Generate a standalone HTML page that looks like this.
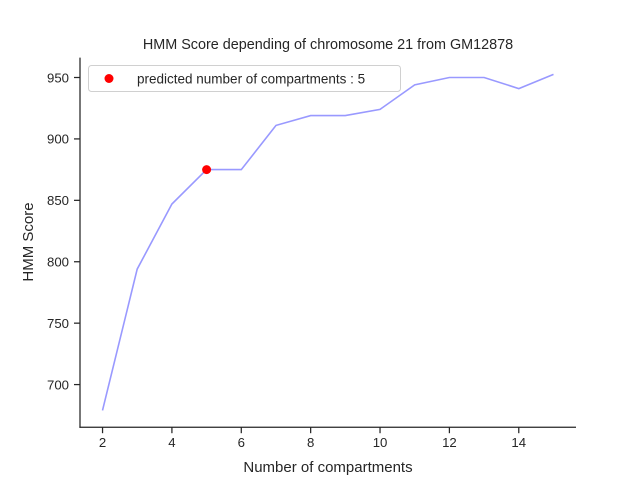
<!DOCTYPE html>
<html><head><meta charset="utf-8"><style>
body{margin:0;background:#fff;}
svg{display:block;font-family:"Liberation Sans","DejaVu Sans",sans-serif;}
</style></head><body>
<svg id="chart" width="640" height="480" viewBox="0 0 640 480">
<rect width="640" height="480" fill="#fff"/>
<text x="328" y="49" font-size="14.4" text-anchor="middle" fill="#262626">HMM Score depending of chromosome 21 from GM12878</text>
<g id="axes"></g>
<g id="series"></g>
<text x="328" y="472" font-size="15" text-anchor="middle" fill="#262626">Number of compartments</text>
<text transform="translate(33,242) rotate(-90)" font-size="15" text-anchor="middle" fill="#262626">HMM Score</text>
<g>
<rect x="88.5" y="65.5" width="312" height="26" rx="3" fill="#fff" fill-opacity="0.8" stroke="#d0d0d0"/>
<circle cx="109" cy="78.5" r="4.5" fill="#ff0000"/>
<text x="137" y="83.5" font-size="13.5" fill="#262626">predicted number of compartments : 5</text>
</g>
</svg>
<script>
const categories=[2,3,4,5,6,7,8,9,10,11,12,13,14,15];
const scores=[679,794,847,875,875,911,919,919,924,944,950,950,941,952.5];
const xTicks=[2,4,6,8,10,12,14];
const yTicks=[700,750,800,850,900,950];
const predictedK=[5];
const predictedScore=[875];
const L=80,R=576,T=57.6,B=427.2;
const xmin=1.35,xmax=15.65,ymin=665.3,ymax=966.2;
function xs(v){return L+(v-xmin)/(xmax-xmin)*(R-L);}
function ys(v){return B-(v-ymin)/(ymax-ymin)*(B-T);}
const NS="http://www.w3.org/2000/svg";
function mk(tag,attrs,parent){const e=document.createElementNS(NS,tag);for(const k in attrs)e.setAttribute(k,attrs[k]);parent.appendChild(e);return e;}
const ax=document.getElementById('axes');
const ls=mk('line',{x1:L,y1:T,x2:L,y2:B+0.6,stroke:'#262626','stroke-width':1.25},ax);


const bs=mk('line',{x1:L-0.6,y1:B,x2:R,y2:B,stroke:'#262626','stroke-width':1.25},ax);


xTicks.forEach(t=>{const x=xs(t);
const tk=mk('line',{x1:x,y1:B,x2:x,y2:B+6,stroke:'#262626','stroke-width':1.25},ax);


const tl=mk('text',{x:x,y:B+20,'font-size':13.2,'text-anchor':'middle',fill:'#262626'},ax);tl.textContent=t;

});
yTicks.forEach(t=>{const y=ys(t);
const tk=mk('line',{x1:L-6,y1:y,x2:L,y2:y,stroke:'#262626','stroke-width':1.25},ax);


const tl=mk('text',{x:L-11,y:y+4.8,'font-size':13.2,'text-anchor':'end',fill:'#262626'},ax);tl.textContent=t;

});
const sg=document.getElementById('series');
const pts=categories.map((c,i)=>xs(c).toFixed(1)+','+ys(scores[i]).toFixed(1)).join(' ');
const pl=mk('polyline',{points:pts,fill:'none',stroke:'#9999ff','stroke-width':1.6},sg);


predictedK.forEach((k,i)=>{const c=mk('circle',{cx:xs(k),cy:ys(predictedScore[i]),r:4.5,fill:'#ff0000'},sg);

});
</script>
</body></html>
